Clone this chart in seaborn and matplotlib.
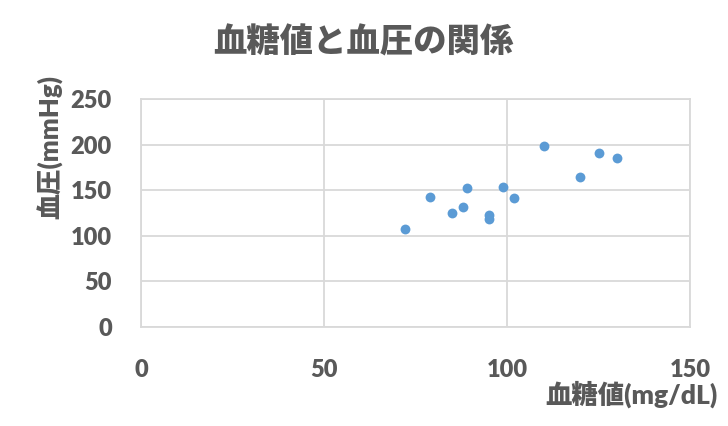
import matplotlib
matplotlib.use("Agg")
import matplotlib.pyplot as plt
import seaborn as sns
import pandas as pd

glucose = [72, 79, 85, 88, 89, 95, 95, 99, 102, 110, 120, 125, 130]
pressure = [107, 143, 125, 132, 152, 123, 118, 154, 141, 198, 165, 191, 185]
x_ticks = [0, 50, 100, 150]
y_ticks = [0, 50, 100, 150, 200, 250]
title = "血糖値と血圧の関係"
x_label = "血糖値(mg/dL)"
y_label = "血圧(mmHg)"

df = pd.DataFrame({"glucose": glucose, "pressure": pressure})

sns.set_theme(style="white")
FAM = ["Lato", "Noto Sans CJK JP", "DejaVu Sans"]
plt.rcParams["font.family"] = FAM
TXT = "#595959"
GRID = "#d9d9d9"
W = "heavy"

fig = plt.figure(figsize=(7.28, 4.26), dpi=100)
ax = fig.add_axes([141/728, 1-327/426, 549/728, 228/426])

sns.scatterplot(data=df, x="glucose", y="pressure", ax=ax, s=50,
                color="#5b9bd5", edgecolor="#5b9bd5", linewidth=0, zorder=3)

ax.set_xlim(0, 150)
ax.set_ylim(0, 250)
ax.set_xticks(x_ticks)
ax.set_yticks(y_ticks)
ax.grid(True, color=GRID, linewidth=1.3)
ax.set_axisbelow(True)
for sp in ax.spines.values():
    sp.set_color(GRID)
    sp.set_linewidth(1.3)
ax.tick_params(axis="both", length=0, labelsize=17, labelcolor=TXT)
ax.tick_params(axis="x", pad=23)
ax.tick_params(axis="y", pad=21)
for lab in ax.get_xticklabels() + ax.get_yticklabels():
    lab.set_fontweight(W)
    lab.set_family(FAM)

ax.set_xlabel(x_label, fontsize=19, fontweight=W, color=TXT, family=FAM,
              ha="right", va="center")
ax.xaxis.set_label_coords((718-141)/549, (327-394)/228)
ax.set_ylabel(y_label, fontsize=18.5, fontweight=W, color=TXT, family=FAM,
              ha="center", va="center")
ax.yaxis.set_label_coords((50-141)/549, (327-147)/228)

fig.text(363/728, 1-42/426, title, fontsize=24, fontweight=W, color=TXT,
         family=FAM, ha="center", va="center")

fig.savefig("out.png", dpi=100, facecolor="white")
